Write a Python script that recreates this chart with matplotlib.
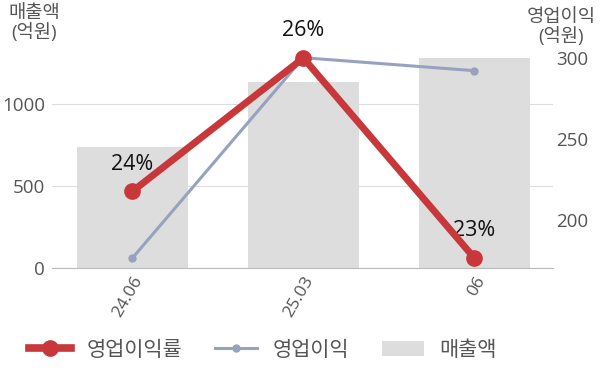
import matplotlib
matplotlib.use("Agg")
import matplotlib.pyplot as plt
from matplotlib.lines import Line2D
from matplotlib.patches import Patch

plt.rcParams['font.family'] = ['Open Sans', 'Noto Sans CJK KR', 'DejaVu Sans']

categories = ["24.06", "25.03", "06"]
sales = [738, 1135, 1282]          # 매출액 (억원)
op_profit = [176.5, 300, 292]      # 영업이익 (억원)
op_margin = [24.0, 26.0, 23.0]     # 영업이익률 (%)
margin_labels = ["24%", "26%", "23%"]

fig = plt.figure(figsize=(6, 3.83), dpi=100)
ax = fig.add_axes([52/600, 1-268/383, (553-52)/600, (268-22)/383])
ax2 = ax.twinx()
ax3 = ax.twinx()

x = list(range(len(categories)))
ax.bar(x, sales, width=0.65, color="#dddddd", zorder=1)
ax.set_ylim(0, 1500)
ax.set_xlim(-0.47, 2.46)
ax.set_yticks([0, 500, 1000])
ax.yaxis.grid(True, color="#dddddd", linewidth=0.8)
ax.set_axisbelow(True)
for s in ["top", "right", "left"]:
    ax.spines[s].set_visible(False)
ax.spines["bottom"].set_color("#bbbbbb")
ax.tick_params(axis="y", length=0, labelsize=13.5, labelcolor="#555555", pad=5)
ax.tick_params(axis="x", length=0, labelsize=12.5, labelcolor="#555555", pad=4)
ax.set_xticks(x)
ax.set_xticklabels(categories, rotation=60, ha="right", va="top", rotation_mode="anchor")

ax2.plot(x, op_profit, color="#97a2bf", linewidth=2.2, marker="o", markersize=5, zorder=3)
ax2.set_ylim(170.4, 322)
ax2.set_yticks([200, 250, 300])
for s in ax2.spines.values():
    s.set_visible(False)
ax2.tick_params(axis="y", length=0, labelsize=13.5, labelcolor="#555555", pad=2)

ax3.plot(x, op_margin, color="#c8373a", linewidth=5, marker="o", markersize=11, zorder=4)
ax3.set_ylim(22.85, 26.54)
ax3.set_yticks([])
for s in ax3.spines.values():
    s.set_visible(False)
for xi, v, lab in zip(x, op_margin, margin_labels):
    ax3.annotate(lab, (xi, v), xytext=(0, 12), textcoords="offset points",
                 ha="center", va="bottom", fontsize=15.5, color="#111111")

fig.text(34/600, 1-23/383, "매출액\n(억원)", ha="center", va="center", fontsize=13.5,
         color="#555555", linespacing=1.05)
fig.text(561/600, 1-27/383, "영업이익\n(억원)", ha="center", va="center", fontsize=13.5,
         color="#555555", linespacing=1.05)

handles = [
    Line2D([], [], color="#c8373a", linewidth=5.5, marker="o", markersize=11),
    Line2D([], [], color="#97a2bf", linewidth=2.2, marker="o", markersize=5),
    Patch(facecolor="#dddddd"),
]
labels = ["영업이익률", "영업이익", "매출액"]
fig.legend(handles, labels, loc="center", bbox_to_anchor=(263/600, 1-350/383), ncol=3,
           frameon=False, fontsize=15, handlelength=2.0, handleheight=0.7,
           columnspacing=1.6, labelcolor="#555555", handletextpad=0.75)

fig.savefig("out.png", dpi=100)
